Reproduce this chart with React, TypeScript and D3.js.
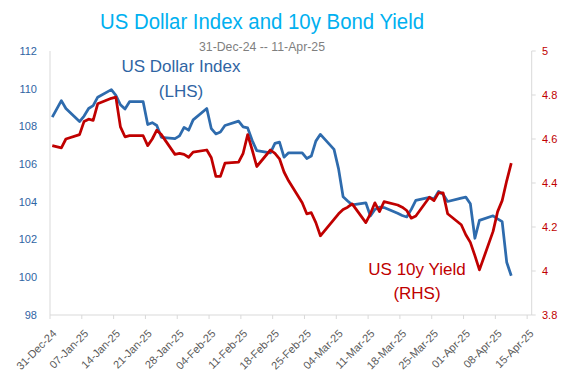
import React from "react";
import * as d3 from "d3";

const dates = [
  "2024-12-31","2025-01-02","2025-01-03","2025-01-06","2025-01-07","2025-01-08","2025-01-09","2025-01-10","2025-01-13","2025-01-14","2025-01-15","2025-01-16","2025-01-17","2025-01-20","2025-01-21","2025-01-22","2025-01-23","2025-01-24","2025-01-27","2025-01-28","2025-01-29","2025-01-30","2025-01-31",
  "2025-02-03","2025-02-04","2025-02-05","2025-02-06","2025-02-07","2025-02-10","2025-02-11","2025-02-12","2025-02-13","2025-02-14","2025-02-17","2025-02-18","2025-02-19","2025-02-20","2025-02-21","2025-02-24","2025-02-25","2025-02-26","2025-02-27","2025-02-28",
  "2025-03-03","2025-03-04","2025-03-05","2025-03-06","2025-03-07","2025-03-10","2025-03-11","2025-03-12","2025-03-13","2025-03-14","2025-03-17","2025-03-18","2025-03-19","2025-03-20","2025-03-21","2025-03-24","2025-03-25","2025-03-26","2025-03-27","2025-03-28","2025-03-31",
  "2025-04-01","2025-04-02","2025-04-03","2025-04-04","2025-04-07","2025-04-08","2025-04-09","2025-04-10","2025-04-11",
];

const dollarIndex = [
  108.49,109.37,108.95,108.26,108.55,108.95,109.1,109.55,109.95,109.65,109.15,108.92,109.31,109.31,108.1,108.2,108.05,107.42,107.35,107.5,107.95,107.8,108.35,
  108.95,107.88,107.6,107.7,108.05,108.28,107.98,107.92,107.25,106.72,106.6,107.1,107.17,106.37,106.6,106.6,106.3,106.43,107.22,107.58,
  106.78,105.75,104.27,104.05,103.84,103.95,103.25,103.6,103.72,103.7,103.4,103.28,103.2,103.6,104.08,104.24,104.15,104.55,104.4,104.02,104.2,
  104.25,103.9,102.07,103.02,103.26,103.1,102.95,100.8,100.08,
];

const bondYield = [
  4.57,4.56,4.60,4.62,4.68,4.69,4.685,4.76,4.785,4.79,4.655,4.61,4.615,4.615,4.57,4.60,4.64,4.62,4.53,4.535,4.53,4.517,4.54,
  4.55,4.515,4.43,4.43,4.49,4.495,4.535,4.62,4.55,4.475,4.55,4.535,4.51,4.45,4.41,4.31,4.26,4.265,4.22,4.16,
  4.235,4.26,4.28,4.29,4.305,4.22,4.26,4.31,4.27,4.315,4.30,4.29,4.275,4.24,4.25,4.335,4.32,4.355,4.355,4.26,4.21,
  4.165,4.13,4.07,4.005,4.18,4.27,4.32,4.41,4.49,
];

const leftTicks = [98, 100, 102, 104, 106, 108, 110, 112];
const rightTicks = [3.8, 4.0, 4.2, 4.4, 4.6, 4.8, 5.0];

const TITLE = "US Dollar Index and 10y Bond Yield";
const SUBTITLE = "31-Dec-24 -- 11-Apr-25";

const BLUE = "#2e6bad";
const BLUE_TEXT = "#2f64a3";
const RED = "#c00000";
const FONT = "'Liberation Sans', Arial, sans-serif";

export default function App() {
  const parse = d3.timeParse("%Y-%m-%d");
  const ds = dates.map((s) => parse(s) as Date);
  const start = parse("2024-12-31") as Date;
  const end = parse("2025-04-16") as Date;

  const L = 50, R = 531.7, T = 51, B = 315;
  const x = d3.scaleTime().domain([start, end]).range([L, R]);
  const yL = d3.scaleLinear().domain([98, 112]).range([B, T]);
  const yR = d3.scaleLinear().domain([3.8, 5]).range([B, T]);
  const xp = (d: Date) => x(d3.timeHour.offset(d, 12));

  const lineL = d3.line<number>().x((_, i) => xp(ds[i])).y((v) => yL(v));
  const lineR = d3.line<number>().x((_, i) => xp(ds[i])).y((v) => yR(v));

  const xTicks = d3.range(16).map((k) => d3.timeDay.offset(start, 7 * k));
  const fmt = d3.timeFormat("%d-%b-%y");
  const axisColor = "#d9d9d9";

  return (
    <svg width={580} height={376} style={{ position: "absolute", left: 0, top: 0, background: "#fff" }} fontFamily={FONT}>
      <text x={262} y={28.5} textAnchor="middle" fontSize={22.5} fill="#00b0f0" textLength={324} lengthAdjust="spacingAndGlyphs">{TITLE}</text>
      <text x={262} y={51} textAnchor="middle" fontSize={12.5} fill="#7f7f7f" textLength={126} lengthAdjust="spacingAndGlyphs">{SUBTITLE}</text>

      {/* axes */}
      <line x1={L} x2={L} y1={T} y2={B} stroke={axisColor} strokeWidth={1} />
      <line x1={R} x2={R} y1={T} y2={B} stroke={axisColor} strokeWidth={1} />
      <line x1={L} x2={R} y1={B} y2={B} stroke={axisColor} strokeWidth={1} />
      {rightTicks.map((t) => (
        <line key={"rt" + t} x1={R} x2={R + 4} y1={yR(t)} y2={yR(t)} stroke={axisColor} />
      ))}
      {xTicks.map((t, i) => (
        <line key={"xt" + i} x1={x(t)} x2={x(t)} y1={B} y2={B + 4} stroke={axisColor} />
      ))}

      {leftTicks.map((t) => (
        <text key={"lt" + t} x={37} y={yL(t)} dy="0.35em" textAnchor="end" fontSize={11} fill={BLUE_TEXT}>{t}</text>
      ))}
      {rightTicks.map((t) => (
        <text key={"rl" + t} x={542} y={yR(t)} dy="0.35em" textAnchor="start" fontSize={11} fill={RED}>{String(+t.toFixed(1))}</text>
      ))}
      {xTicks.map((t, i) => (
        <text key={"xl" + i} transform={`translate(${x(t) + 4.5},${B + 16.5}) rotate(-45)`} dy="0.35em" textAnchor="end" fontSize={11} fill="#595959">{fmt(t)}</text>
      ))}

      <path d={lineL(dollarIndex) || ""} fill="none" stroke={BLUE} strokeWidth={2.75} strokeLinejoin="round" />
      <path d={lineR(bondYield) || ""} fill="none" stroke={RED} strokeWidth={2.75} strokeLinejoin="round" />

      <text x={181} y={71.7} textAnchor="middle" fontSize={17} fill={BLUE_TEXT}>US Dollar Index</text>
      <text x={181} y={96.7} textAnchor="middle" fontSize={17} fill={BLUE_TEXT}>(LHS)</text>
      <text x={417} y={275} textAnchor="middle" fontSize={17} fill={RED}>US 10y Yield</text>
      <text x={417} y={299} textAnchor="middle" fontSize={17} fill={RED}>(RHS)</text>
    </svg>
  );
}
